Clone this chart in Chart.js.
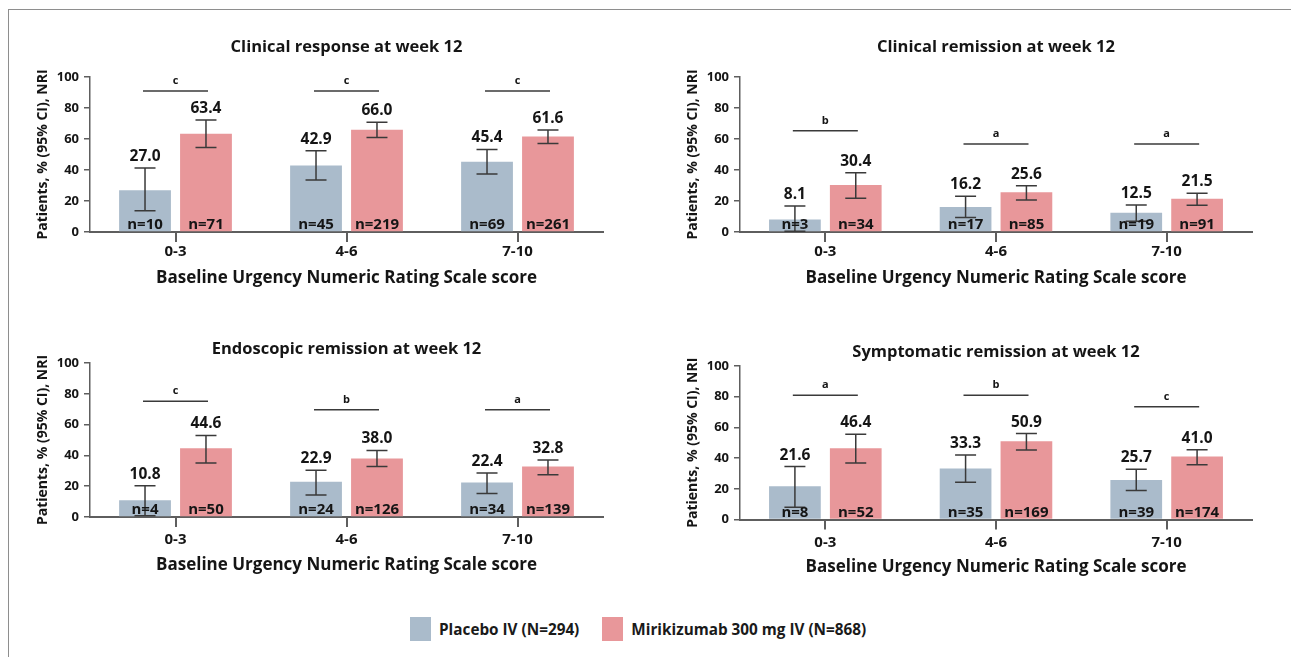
<!DOCTYPE html>
<html>
<head>
<meta charset="utf-8">
<script src="https://cdn.jsdelivr.net/npm/chart.js@4.4.1/dist/chart.umd.min.js"></script>
<style>
    html, body { margin: 0; padding: 0; background: #fff; width: 1291px; height: 657px; overflow: hidden; }
    #frame { position: absolute; left: 8px; top: 9px; width: 1320px; height: 700px;
             border-top: 1.5px solid #8e8e8e; border-left: 1.5px solid #8e8e8e; }
    canvas { position: absolute; }
    #legend { position: absolute; left: 410px; top: 617px; display: flex; align-items: center;
              font-family: "Open Sans", sans-serif; font-weight: bold; font-size: 15.3px; color: #1a1a1a; }
    .legend-item { display: flex; align-items: center; margin-right: 23px; }
    .legend-box { width: 21px; height: 24px; margin-right: 8px; }
</style>
</head>
<body>
<div id="frame"></div>
<canvas id="p1"></canvas>
<canvas id="p2"></canvas>
<canvas id="p3"></canvas>
<canvas id="p4"></canvas>
<div id="legend"></div>

<script>
// --- Data ---
const categories = ['0-3', '4-6', '7-10'];
const seriesNames = ['Placebo IV (N=294)', 'Mirikizumab 300 mg IV (N=868)'];

// Clinical response at week 12
const respPlacebo = [27.0, 42.9, 45.4];
const respPlaceboLo = [13.7, 33.6, 37.5];
const respPlaceboHi = [41.3, 52.5, 53.3];
const respPlaceboN = [10, 45, 69];
const respMiri = [63.4, 66.0, 61.6];
const respMiriLo = [54.5, 61.0, 57.1];
const respMiriHi = [72.3, 70.8, 65.8];
const respMiriN = [71, 219, 261];
const respSig = ['c', 'c', 'c'];
const respSigAt = [91, 91, 91];

// Clinical remission at week 12
const remPlacebo = [8.1, 16.2, 12.5];
const remPlaceboLo = [0.5, 9.3, 7.0];
const remPlaceboHi = [16.8, 23.0, 17.5];
const remPlaceboN = [3, 17, 19];
const remMiri = [30.4, 25.6, 21.5];
const remMiriLo = [21.7, 20.7, 17.3];
const remMiriHi = [38.3, 29.9, 25.0];
const remMiriN = [34, 85, 91];
const remSig = ['b', 'a', 'a'];
const remSigAt = [65.4, 56.8, 56.8];

// Endoscopic remission at week 12
const endoPlacebo = [10.8, 22.9, 22.4];
const endoPlaceboLo = [0.8, 14.3, 15.3];
const endoPlaceboHi = [20.3, 30.3, 28.6];
const endoPlaceboN = [4, 24, 34];
const endoMiri = [44.6, 38.0, 32.8];
const endoMiriLo = [35.0, 32.8, 27.5];
const endoMiriHi = [53.0, 43.2, 37.0];
const endoMiriN = [50, 126, 139];
const endoSig = ['c', 'b', 'a'];
const endoSigAt = [75.1, 69.7, 69.7];

// Symptomatic remission at week 12
const sympPlacebo = [21.6, 33.3, 25.7];
const sympPlaceboLo = [8.0, 24.2, 18.9];
const sympPlaceboHi = [34.5, 42.0, 32.7];
const sympPlaceboN = [8, 35, 39];
const sympMiri = [46.4, 50.9, 41.0];
const sympMiriLo = [36.8, 45.3, 35.6];
const sympMiriHi = [55.5, 56.0, 45.4];
const sympMiriN = [52, 169, 174];
const sympSig = ['a', 'b', 'c'];
const sympSigAt = [80.9, 80.9, 73.4];

const yTicks = [0, 20, 40, 60, 80, 100];

const colors = ['#aabbcb', '#e8979a'];
const AXIS = '#5e5e5e';
const TXT = '#151515';
const FONT = '"Open Sans", sans-serif';

Chart.defaults.font.family = FONT;
Chart.defaults.color = TXT;

// page placement of each panel (plot area edges, title / tick / axis title centres)
const panels = [
    { id: 'p1', title: 'Clinical response at week 12', L: 90, R: 603, T: 30, top: 77, bottom: 232, titleY: 47, tickY: 252, xTitleY: 278,
      placebo: [respPlacebo, respPlaceboLo, respPlaceboHi, respPlaceboN], miri: [respMiri, respMiriLo, respMiriHi, respMiriN], sig: respSig, sigAt: respSigAt },
    { id: 'p2', title: 'Clinical remission at week 12', L: 740, R: 1252, T: 30, top: 77, bottom: 232, titleY: 47, tickY: 252, xTitleY: 278,
      placebo: [remPlacebo, remPlaceboLo, remPlaceboHi, remPlaceboN], miri: [remMiri, remMiriLo, remMiriHi, remMiriN], sig: remSig, sigAt: remSigAt },
    { id: 'p3', title: 'Endoscopic remission at week 12', L: 90, R: 603, T: 330, top: 363, bottom: 517, titleY: 349, tickY: 540, xTitleY: 565,
      placebo: [endoPlacebo, endoPlaceboLo, endoPlaceboHi, endoPlaceboN], miri: [endoMiri, endoMiriLo, endoMiriHi, endoMiriN], sig: endoSig, sigAt: endoSigAt },
    { id: 'p4', title: 'Symptomatic remission at week 12', L: 740, R: 1252, T: 330, top: 366, bottom: 519.5, titleY: 352, tickY: 543, xTitleY: 567,
      placebo: [sympPlacebo, sympPlaceboLo, sympPlaceboHi, sympPlaceboN], miri: [sympMiri, sympMiriLo, sympMiriHi, sympMiriN], sig: sympSig, sigAt: sympSigAt }
];

// --- Error bars, value labels, n labels, significance lines ---
const marksPlugin = {
    id: 'marks',
    afterDatasetsDraw(chart, args, opts) {
        const { ctx, scales: { x, y } } = chart;
        ctx.save();
        chart.data.datasets.forEach((ds, di) => {
            const meta = chart.getDatasetMeta(di);
            meta.data.forEach((bar, i) => {
                const lo = y.getPixelForValue(ds.lo[i]);
                const hi = y.getPixelForValue(ds.hi[i]);
                ctx.strokeStyle = '#3a3a3a';
                ctx.lineWidth = 1.5;
                ctx.beginPath();
                ctx.moveTo(bar.x, lo); ctx.lineTo(bar.x, hi);
                ctx.moveTo(bar.x - 10.5, lo); ctx.lineTo(bar.x + 10.5, lo);
                ctx.moveTo(bar.x - 10.5, hi); ctx.lineTo(bar.x + 10.5, hi);
                ctx.stroke();

                ctx.fillStyle = TXT;
                ctx.textAlign = 'center';
                ctx.textBaseline = 'alphabetic';
                ctx.font = `bold 15.5px ${FONT}`;
                ctx.fillText(ds.data[i].toFixed(1), bar.x, hi - 7);
                ctx.font = `bold 15px ${FONT}`;
                ctx.fillText('n=' + ds.n[i], bar.x, y.getPixelForValue(0) - 3);
            });
        });

        // significance lines
        opts.sig.forEach((letter, i) => {
            const cx = x.getPixelForValue(i);
            const sy = y.getPixelForValue(opts.sigAt[i]);
            ctx.strokeStyle = '#3a3a3a';
            ctx.lineWidth = 1.5;
            ctx.beginPath();
            ctx.moveTo(cx - 32.5, sy); ctx.lineTo(cx + 32.5, sy);
            ctx.stroke();
            ctx.fillStyle = TXT;
            ctx.font = `bold 11px ${FONT}`;
            ctx.textAlign = 'center';
            ctx.fillText(letter, cx, sy - 7);
        });
        ctx.restore();
    }
};

function makePanel(p) {
    const canvas = document.getElementById(p.id);
    const left = p.L - 70;
    const width = p.R - p.L + 80;
    const height = Math.ceil(p.xTitleY + 12 - p.T);
    canvas.width = width;
    canvas.height = height;
    canvas.style.left = left + 'px';
    canvas.style.top = p.T + 'px';

    const titleSize = 16.5, xTitleSize = 17;
    const titlePadTop = p.titleY - p.T - titleSize * 0.6;
    const titlePadBottom = p.top - p.T - titlePadTop - titleSize * 1.2;
    const xHeight = p.T + height - p.bottom;
    const xTitlePadBottom = p.T + height - p.xTitleY - xTitleSize * 0.6;
    const xTickPad = p.tickY - p.bottom - 10 - 9;

    const mkSet = (label, color, arr) => ({
        label: label,
        data: arr[0],
        lo: arr[1],
        hi: arr[2],
        n: arr[3],
        backgroundColor: color,
        borderWidth: 0,
        categoryPercentage: 0.713,
        barPercentage: 0.85
    });

    return new Chart(canvas.getContext('2d'), {
        type: 'bar',
        data: {
            labels: categories,
            datasets: [mkSet(seriesNames[0], colors[0], p.placebo), mkSet(seriesNames[1], colors[1], p.miri)]
        },
        options: {
            responsive: false,
            animation: false,
            events: [],
            layout: { padding: { left: 0, right: 10, top: 0, bottom: 0 } },
            scales: {
                x: {
                    grid: { drawOnChartArea: false, offset: false, tickLength: 10, color: AXIS, lineWidth: 2 },
                    border: { color: AXIS, width: 2 },
                    ticks: { color: TXT, padding: xTickPad, font: { size: 15, weight: 'bold' } },
                    title: { display: true, text: 'Baseline Urgency Numeric Rating Scale score', color: TXT,
                             font: { size: xTitleSize, weight: 'bold' }, padding: { top: 0, bottom: xTitlePadBottom } },
                    afterFit: s => { s.height = xHeight; }
                },
                y: {
                    min: 0,
                    max: 100,
                    afterBuildTicks: s => { s.ticks = yTicks.map(v => ({ value: v })); },
                    grid: { drawOnChartArea: false, tickLength: 6, color: AXIS, lineWidth: 1.5 },
                    border: { color: AXIS, width: 1.5 },
                    ticks: { color: TXT, padding: 5, font: { size: 13, weight: 'bold' } },
                    title: { display: true, text: 'Patients, % (95% CI), NRI', color: TXT,
                             font: { size: 14, weight: 'bold' }, padding: { top: 14.6, bottom: 0 } },
                    afterFit: s => { s.width = 70; }
                }
            },
            plugins: {
                legend: { display: false },
                tooltip: { enabled: false },
                title: { display: true, text: p.title, fullSize: false, color: TXT,
                         font: { size: titleSize, weight: 'bold' }, padding: { top: titlePadTop, bottom: titlePadBottom } },
                marks: { sig: p.sig, sigAt: p.sigAt }
            }
        },
        plugins: [marksPlugin]
    });
}

panels.forEach(makePanel);

// Custom legend
const legendEl = document.getElementById('legend');
seriesNames.forEach((name, i) => {
    const item = document.createElement('span');
    item.className = 'legend-item';
    item.innerHTML = `<span class="legend-box" style="background:${colors[i]}"></span>${name}`;
    legendEl.appendChild(item);
});
</script>
</body>
</html>
